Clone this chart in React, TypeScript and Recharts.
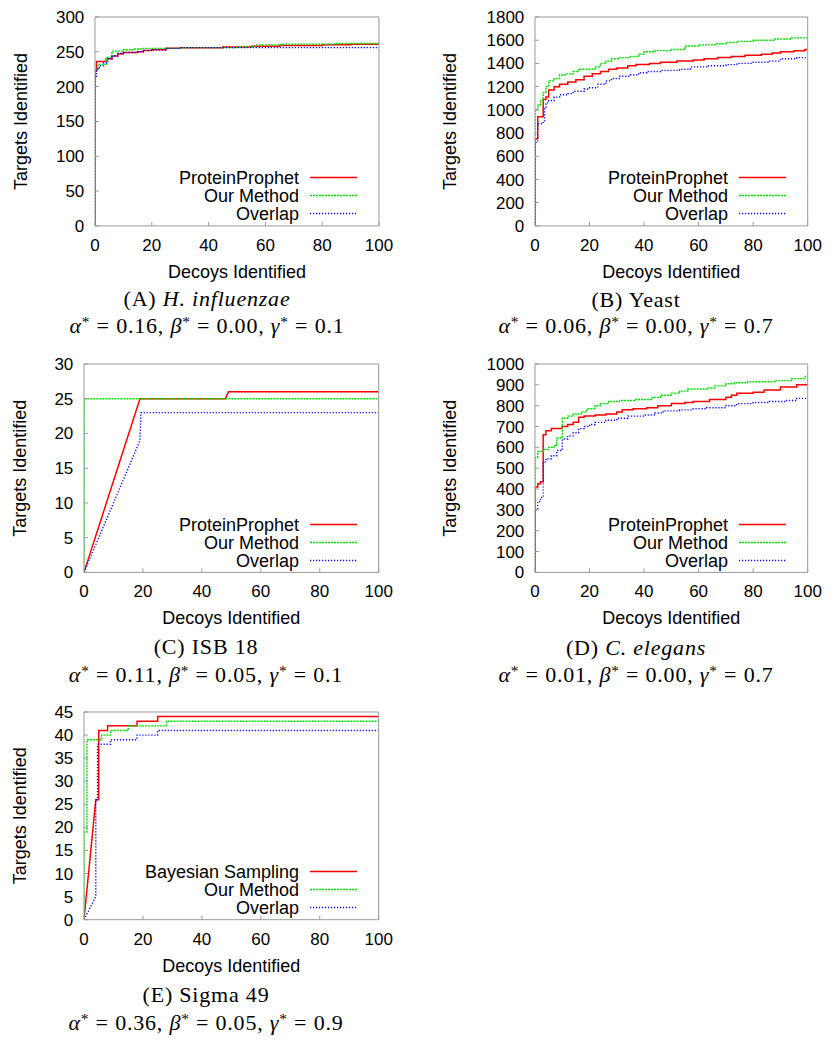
import React from 'react';
import { LineChart, Line, XAxis, YAxis, Legend } from 'recharts';

type Pt = [number, number];

// ---------- tick values ----------
const xTicks = [0, 20, 40, 60, 80, 100];
const yTicksA = [0, 50, 100, 150, 200, 250, 300];
const yTicksB = [0, 200, 400, 600, 800, 1000, 1200, 1400, 1600, 1800];
const yTicksC = [0, 5, 10, 15, 20, 25, 30];
const yTicksD = [0, 100, 200, 300, 400, 500, 600, 700, 800, 900, 1000];
const yTicksE = [0, 5, 10, 15, 20, 25, 30, 35, 40, 45];

// ---------- series names ----------
const namesStd = ['ProteinProphet', 'Our Method', 'Overlap'];
const namesE = ['Bayesian Sampling', 'Our Method', 'Overlap'];

// ---------- (A) H. influenzae ----------
const redA: Pt[] = [[0,0],[0,222],[0.5,222],[0.5,236],[4,236],[4,240],[6,240],[6,244],[8,244],[8,247],[10,247],[10,249],[15,249],[15,250],[17,250],[17,252],[20,252],[20,253],[25,253],[25,255],[30,255],[30,256],[45,256],[45,257],[55,257],[55,258],[65,258],[65,259],[80,259],[80,260],[90,260],[90,261],[100,261]];
const greenA: Pt[] = [[0,0],[0,224],[1,224],[1,232],[4,232],[4,242],[6,242],[6,251],[10,251],[10,253],[14,253],[14,254],[17,254],[17,255],[30,255],[30,256],[50,256],[50,257],[57,257],[57,260],[66,260],[66,261],[85,261],[85,262],[100,262]];
const blueA: Pt[] = [[0,0],[0,215],[0.5,215],[0.5,225],[1.5,225],[1.5,230],[3,230],[3,234],[4.5,234],[4.5,240],[6,240],[6,244],[8,244],[8,248],[10,248],[10,249],[15,249],[15,250],[17,250],[17,252],[20,252],[20,253],[25,253],[25,255],[30,255],[30,256],[100,256]];

// ---------- (B) Yeast ----------
const redB: Pt[] = [[0,0],[0,750],[1,750],[1,940],[3,940],[3,1090],[4,1090],[4,1110],[5,1110],[5,1170],[7,1170],[7,1200],[9,1200],[9,1220],[12,1220],[12,1240],[15,1240],[15,1260],[18,1260],[18,1290],[21,1290],[21,1310],[24,1310],[24,1330],[27,1330],[27,1350],[30,1350],[30,1360],[34,1360],[34,1380],[37,1380],[37,1390],[42,1390],[42,1400],[46,1400],[46,1410],[52,1410],[52,1420],[58,1420],[58,1430],[62,1430],[62,1440],[67,1440],[67,1450],[72,1450],[72,1460],[77,1460],[77,1470],[83,1470],[83,1480],[87,1480],[87,1490],[90,1490],[90,1500],[95,1500],[95,1510],[99,1510],[99,1520],[100,1520]];
const greenB: Pt[] = [[0,0],[0,1000],[1,1000],[1,1040],[2,1040],[2,1080],[3,1080],[3,1150],[4,1150],[4,1200],[5,1200],[5,1250],[7,1250],[7,1270],[9,1270],[9,1300],[11,1300],[11,1310],[14,1310],[14,1330],[16,1330],[16,1350],[22,1350],[22,1370],[24,1370],[24,1400],[26,1400],[26,1420],[28,1420],[28,1440],[31,1440],[31,1450],[35,1450],[35,1460],[38,1460],[38,1480],[40,1480],[40,1500],[44,1500],[44,1510],[50,1510],[50,1520],[55,1520],[55,1550],[60,1550],[60,1560],[66,1560],[66,1570],[70,1570],[70,1580],[74,1580],[74,1590],[80,1590],[80,1600],[88,1600],[88,1610],[94,1610],[94,1620],[100,1620]];
const blueB: Pt[] = [[0,0],[0,720],[1,720],[1,880],[3,880],[3,900],[3.5,900],[3.5,1020],[4,1020],[4,1060],[5,1060],[5,1080],[7,1080],[7,1110],[9,1110],[9,1130],[12,1130],[12,1140],[14,1140],[14,1160],[18,1160],[18,1180],[20,1180],[20,1190],[23,1190],[23,1220],[26,1220],[26,1250],[28,1250],[28,1270],[31,1270],[31,1290],[35,1290],[35,1300],[38,1300],[38,1320],[41,1320],[41,1330],[46,1330],[46,1340],[53,1340],[53,1350],[57,1350],[57,1370],[63,1370],[63,1380],[70,1380],[70,1390],[74,1390],[74,1400],[80,1400],[80,1410],[86,1410],[86,1420],[90,1420],[90,1440],[96,1440],[96,1450],[100,1450]];

// ---------- (C) ISB 18 ----------
const redC: Pt[] = [[0,0],[19,25],[48,25],[49,26],[100,26]];
const greenC: Pt[] = [[0,0],[0,25],[100,25]];
const blueC: Pt[] = [[0,0],[19,19],[19.3,23],[100,23]];

// ---------- (D) C. elegans ----------
const redD: Pt[] = [[0,0],[0,410],[1,410],[1,425],[2,425],[2,435],[3,435],[3,660],[4,660],[4,680],[6,680],[6,690],[10,690],[10,700],[12,700],[12,710],[14,710],[14,720],[16,720],[16,745],[18,745],[18,750],[22,750],[22,755],[26,755],[26,760],[30,760],[30,770],[32,770],[32,780],[36,780],[36,785],[41,785],[41,790],[45,790],[45,800],[50,800],[50,810],[55,810],[55,815],[58,815],[58,820],[64,820],[64,830],[70,830],[70,840],[72,840],[72,850],[74,850],[74,860],[80,860],[80,865],[84,865],[84,875],[90,875],[90,890],[96,890],[96,900],[100,900]];
const greenD: Pt[] = [[0,0],[0,550],[1,550],[1,580],[3,580],[3,590],[5,590],[5,600],[7,600],[7,610],[8,610],[8,645],[10,645],[10,740],[12,740],[12,750],[14,750],[14,760],[17,760],[17,770],[19,770],[19,785],[22,785],[22,800],[24,800],[24,810],[27,810],[27,820],[31,820],[31,825],[37,825],[37,830],[43,830],[43,840],[46,840],[46,850],[50,850],[50,860],[53,860],[53,870],[56,870],[56,880],[63,880],[63,885],[66,885],[66,895],[70,895],[70,905],[73,905],[73,910],[78,910],[78,915],[88,915],[88,920],[94,920],[94,930],[99,930],[99,940],[100,940]];
const blueD: Pt[] = [[0,0],[0,300],[1,300],[1,340],[2,340],[2,360],[3,360],[3,530],[4,530],[4,545],[6,545],[6,560],[8,560],[8,585],[10,585],[10,640],[12,640],[12,655],[14,655],[14,670],[16,670],[16,690],[18,690],[18,700],[20,700],[20,710],[22,710],[22,720],[26,720],[26,730],[30,730],[30,740],[34,740],[34,750],[40,750],[40,755],[44,755],[44,765],[47,765],[47,775],[53,775],[53,780],[58,780],[58,785],[63,785],[63,790],[70,790],[70,800],[74,800],[74,810],[80,810],[80,815],[86,815],[86,820],[92,820],[92,825],[96,825],[96,835],[100,835]];

// ---------- (E) Sigma 49 ----------
const redE: Pt[] = [[0,0],[4,26],[5,26],[5,41],[8,41],[8,42],[18,42],[18,43],[25,43],[25,44],[100,44]];
const greenE: Pt[] = [[0,0],[0,19],[1,19],[1,39],[6,39],[6,40],[9,40],[9,41],[15,41],[15,42],[28,42],[28,43],[100,43]];
const blueE: Pt[] = [[0,0],[4,5],[4,26],[4.6,26],[4.6,38],[9,38],[9,39],[18,39],[18,40],[25,40],[25,41],[100,41]];

// ---------- captions ----------
const titleA = { label: '(A) ', species: 'H. influenzae', italic: true };
const titleB = { label: '(B) ', species: 'Yeast', italic: false };
const titleC = { label: '(C) ', species: 'ISB 18', italic: false };
const titleD = { label: '(D) ', species: 'C. elegans', italic: true };
const titleE = { label: '(E) ', species: 'Sigma 49', italic: false };
const paramsA = ['0.16', '0.00', '0.1'];
const paramsB = ['0.06', '0.00', '0.7'];
const paramsC = ['0.11', '0.05', '0.1'];
const paramsD = ['0.01', '0.00', '0.7'];
const paramsE = ['0.36', '0.05', '0.9'];

const SANS = '"Liberation Sans", Arial, Helvetica, sans-serif';
const SERIF = '"Liberation Serif", "Times New Roman", serif';
const FRAME = '#9a9a9a';

const STYLES = [
  { color: '#ff0000', dash: undefined as string | undefined, width: 1.5 },
  { color: '#00e000', dash: '2 1', width: 1.4 },
  { color: '#0000ff', dash: '1.2 1.8', width: 1.4 },
];

const toRows = (pts: Pt[]) => pts.map(([x, y]) => ({ x, y }));

type Box = { L: number; T: number; R: number; B: number };

type PanelProps = {
  box: Box;
  yTicks: number[];
  names: string[];
  series: Pt[][];
  yTitleGap: number;
};

function Panel({ box, yTicks, names, series, yTitleGap }: PanelProps) {
  const pw = box.R - box.L;
  const ph = box.B - box.T;
  const W = pw + 120;
  const H = ph + 70;
  const yMax = yTicks[yTicks.length - 1];
  const tickStyle = { fill: '#000', fontSize: 17, fontFamily: SANS };

  const xTitle = () => (
    <text x={100 + pw / 2} y={10 + ph + 46} textAnchor="middle" dominantBaseline="central"
      fontFamily={SANS} fontSize={18} fill="#000">Decoys Identified</text>
  );
  const yTitle = () => {
    const cx = 100 - yTitleGap;
    const cy = 10 + ph / 2;
    return (
      <text x={cx} y={cy} transform={`rotate(-90 ${cx} ${cy})`} textAnchor="middle"
        dominantBaseline="central" fontFamily={SANS} fontSize={18} fill="#000">Targets Identified</text>
    );
  };

  const legendContent = () => (
    <svg width={250} height={56} style={{ display: 'block' }}>
      {names.map((n, i) => {
        const y = 9.5 + i * 18;
        const s = STYLES[i];
        return (
          <g key={n}>
            <text x={170} y={y} textAnchor="end" dominantBaseline="central" fontFamily={SANS}
              fontSize={18} fill="#000">{n}</text>
            <line x1={181} x2={228} y1={y} y2={y} stroke={s.color} strokeWidth={s.width}
              strokeDasharray={s.dash} />
          </g>
        );
      })}
    </svg>
  );

  return (
    <div style={{ position: 'absolute', left: box.L - 100, top: box.T - 10, width: W, height: H }}>
      <LineChart width={W} height={H} margin={{ top: 9, right: 19, bottom: 0, left: 0 }}>
        <XAxis xAxisId="b" type="number" dataKey="x" domain={[0, 100]} ticks={xTicks} interval={0}
          allowDataOverflow orientation="bottom" height={60} stroke={FRAME} tickSize={-4}
          tickMargin={17} tick={tickStyle} label={xTitle} />
        <XAxis xAxisId="t" type="number" dataKey="x" domain={[0, 100]} ticks={xTicks} interval={0}
          allowDataOverflow orientation="top" height={1} stroke={FRAME} tickSize={-4} tick={false} />
        <YAxis yAxisId="l" type="number" domain={[0, yMax]} ticks={yTicks} interval={0}
          allowDataOverflow width={100} stroke={FRAME} tickSize={-4} tickMargin={14.7}
          tick={tickStyle} label={yTitle} />
        <YAxis yAxisId="r" type="number" domain={[0, yMax]} ticks={yTicks} interval={0}
          allowDataOverflow orientation="right" width={1} stroke={FRAME} tickSize={-4} tick={false} />
        {series.map((pts, i) => (
          <Line key={names[i]} name={names[i]} xAxisId="b" yAxisId="l" data={toRows(pts)} dataKey="y"
            type="linear" stroke={STYLES[i].color} strokeWidth={STYLES[i].width}
            strokeDasharray={STYLES[i].dash} dot={false} activeDot={false}
            isAnimationActive={false} />
        ))}
        <Legend layout="vertical" align="center" verticalAlign="middle" content={legendContent}
          wrapperStyle={{ left: 100 + pw - 250, top: 10 + ph - 58, width: 250, height: 56,
            right: 'auto', bottom: 'auto' }} />
      </LineChart>
    </div>
  );
}

type CaptionProps = {
  cx: number; y1: number; y2: number;
  title: { label: string; species: string; italic: boolean };
  params: string[];
};

function Caption({ cx, y1, y2, title, params }: CaptionProps) {
  const common: React.CSSProperties = {
    position: 'absolute', left: cx - 200, width: 400, textAlign: 'center',
    fontFamily: SERIF, fontSize: 22, lineHeight: '26px', color: '#000',
    letterSpacing: 0.8, whiteSpace: 'nowrap',
  };
  const sup = (
    <span style={{ fontSize: '0.7em', position: 'relative', top: '-0.38em' }}>*</span>
  );
  const greek = ['α', 'β', 'γ'];
  return (
    <>
      <div style={{ ...common, top: y1 - 13 }}>
        {title.label}
        {title.italic ? <i>{title.species}</i> : title.species}
      </div>
      <div style={{ ...common, top: y2 - 13 }}>
        {params.map((p, i) => (
          <span key={i}>
            <i>{greek[i]}</i>{sup}{' = '}{p}{i < params.length - 1 ? ', ' : ''}
          </span>
        ))}
      </div>
    </>
  );
}

export default function App() {
  return (
    <div style={{ position: 'absolute', left: 0, top: 0, width: 838, height: 1050, background: '#fff', overflow: 'hidden' }}>
      <Panel box={{ L: 95, T: 16.8, R: 379, B: 225.7 }} yTicks={yTicksA} names={namesStd}
        series={[redA, greenA, blueA]} yTitleGap={74} />
      <Panel box={{ L: 535.3, T: 16.8, R: 808, B: 225.7 }} yTicks={yTicksB} names={namesStd}
        series={[redB, greenB, blueB]} yTitleGap={85} />
      <Panel box={{ L: 84.3, T: 364.3, R: 379, B: 572.7 }} yTicks={yTicksC} names={namesStd}
        series={[redC, greenC, blueC]} yTitleGap={63.6} />
      <Panel box={{ L: 535.3, T: 364.3, R: 808, B: 572.7 }} yTicks={yTicksD} names={namesStd}
        series={[redD, greenD, blueD]} yTitleGap={85} />
      <Panel box={{ L: 84.3, T: 712.3, R: 379, B: 920 }} yTicks={yTicksE} names={namesE}
        series={[redE, greenE, blueE]} yTitleGap={63.6} />
      <Caption cx={207} y1={299} y2={326} title={titleA} params={paramsA} />
      <Caption cx={636} y1={300} y2={326} title={titleB} params={paramsB} />
      <Caption cx={206} y1={647} y2={675} title={titleC} params={paramsC} />
      <Caption cx={636} y1={648} y2={675} title={titleD} params={paramsD} />
      <Caption cx={206} y1={995} y2={1023} title={titleE} params={paramsE} />
    </div>
  );
}
